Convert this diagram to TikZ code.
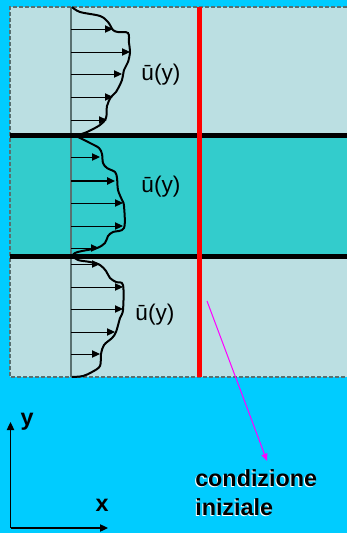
\documentclass[tikz,border=0pt]{standalone}
\usepackage{fontspec}
\setmainfont{Liberation Sans}
\usetikzlibrary{arrows.meta}
\definecolor{bgcyan}{HTML}{00CCFF}
\definecolor{lightband}{HTML}{BBDFE2}
\definecolor{midband}{HTML}{33CCCC}
\definecolor{axisgray}{HTML}{587070}
\definecolor{pinkarrow}{HTML}{FF00FF}
\definecolor{purered}{HTML}{FF0000}
\tikzset{
  prof/.style={line width=1.5pt, black},
  vel/.style={line width=0.75pt, black, -{Triangle[length=6pt,width=5.5pt]}},
  band/.style={line width=3.75pt, black},
  lbl/.style={font=\fontsize{17}{20}\selectfont, inner sep=0pt},
  bold/.style={font=\fontsize{17.5}{21.75}\selectfont\bfseries, inner sep=0pt, align=left},
}
\begin{document}
\begin{tikzpicture}[x=0.75pt,y=-0.75pt]
\useasboundingbox (0,0) rectangle (347,533);
\fill[bgcyan] (0,0) rectangle (347,533);
% regions
\fill[lightband] (10,7) rectangle (347,377);
\fill[midband] (10,135) rectangle (347,256);
\draw[axisgray, line width=0.9pt, dash pattern=on 3pt off 1.5pt] (347,7) -- (10,7) -- (10,377) -- (347,377);
% vertical reference axis
\draw[axisgray, line width=1.1pt] (71,7) -- (71,377);
% band lines
\draw[band] (10,135.5) -- (347,135.5);
\draw[band] (10,256) -- (347,256);
% profile arrows
\foreach \yy/\xx in {29/113,52/130,74/122,97/113,120/107,
                      157/100,203/123,226/123,248/99,
                      264/100,287/123,309/123,332/115,354/100}
  \draw[vel] (71,\yy) -- (\xx,\yy);
\draw[vel, line width=1.3pt] (71,181) -- (115,181);
% profile curves
\draw[prof] plot[smooth, tension=0.55] coordinates {(72,7) (80,12) (100,16) (108,22) (113,30) (118,32) (128,33) (129,43) (130,52) (128,62) (124,70) (122,80) (116,92) (111,97) (107,106) (106,118) (100,125) (87,132) (78,135)};
\draw[prof] plot[smooth, tension=0.55] coordinates {(78,137) (90,143) (99,148) (102,154) (103,163) (107,168) (115,172) (117,178) (118,190) (122,200) (124,206) (124,228) (113,232) (108,236) (105,243) (97,248) (82,251) (75,253) (73,256) (78,260) (90,262) (100,265) (106,271) (110,278) (116,282) (123,285) (123,310) (120,318) (116,332) (112,338) (104,345) (101,354) (100,366) (92,372) (83,376) (72,377)};
% labels
\node[lbl] (u1) at (161,75) {ū(y)};
\node[lbl] (u2) at (161,187) {ū(y)};
\node[lbl] (u3) at (155,315) {ū(y)};
% red line
\draw[purered, line width=3.75pt] (199.5,7) -- (199.5,377);
% condizione iniziale
\node[bold, anchor=north west, white] (ci0) at (194,470.5) {condizione\\iniziale};
\node[bold, anchor=north west] (ci) at (195,469.5) {condizione\\iniziale};
\coordinate (mstart) at (207,301);
\coordinate (mend) at (267,461);
\draw[pinkarrow, line width=0.75pt, -{Triangle[length=5.5pt,width=4.5pt]}] (mstart) -- (mend);
% axes
\coordinate (o) at (10.5,528);
\coordinate (ytip) at (10.5,422);
\coordinate (xtip) at (108,528);
\draw[line width=0.9pt, -{Triangle[length=6pt,width=5.5pt]}] (o) -- (ytip);
\draw[line width=0.9pt, -{Triangle[length=6pt,width=5.5pt]}] (o) -- (xtip);
\node[bold] (ylab) at (27,422) {y};
\node[bold] (xlab) at (102,505) {x};
\end{tikzpicture}
\end{document}
